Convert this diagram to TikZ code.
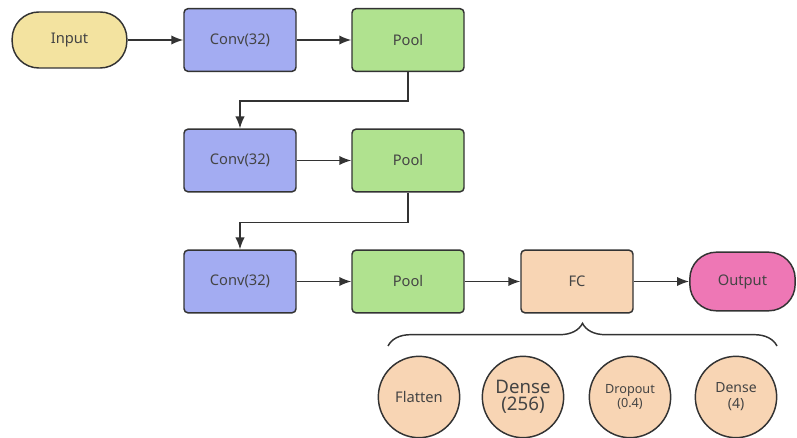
\documentclass[tikz,border=0pt]{standalone}
\usepackage{fontspec}
\setmainfont{Noto Sans}
\usetikzlibrary{decorations.pathreplacing,arrows.meta}
\definecolor{lineC}{HTML}{333333}
\definecolor{textC}{HTML}{444444}
\definecolor{inC}{HTML}{F3E3A0}
\definecolor{convC}{HTML}{A3ACF2}
\definecolor{poolC}{HTML}{B0E28F}
\definecolor{fcC}{HTML}{F8D5B4}
\definecolor{outC}{HTML}{EE77B5}
\begin{document}
\begin{tikzpicture}[x=0.75pt, y=-0.75pt,
	every node/.style={text=textC, font=\fontsize{11}{13}\selectfont},
	box/.style={draw=lineC, line width=1.1pt, rounded corners=3pt, minimum width=84pt, minimum height=47pt, inner sep=0pt},
	pill/.style={draw=lineC, line width=1.1pt, rounded corners=20pt, inner sep=0pt},
	layer/.style={draw=lineC, line width=1.1pt, circle, fill=fcC, minimum size=61pt, inner sep=0pt, align=center},
	arr/.style={draw=lineC, line width=1.1pt, -{Latex[length=9pt,width=7pt]}}]
	\useasboundingbox (0,0) rectangle (797,438);
	% first row
	\node[pill, fill=inC, minimum width=86pt, minimum height=42pt] (input) at (69.5,40) {Input};
	\node[box, fill=convC] (conv1) at (240,40) {Conv(32)};
	\node[box, fill=poolC] (pool1) at (408,40) {Pool};
	% second row
	\node[box, fill=convC] (conv2) at (240,160.5) {Conv(32)};
	\node[box, fill=poolC] (pool2) at (408,160.5) {Pool};
	% third row
	\node[box, fill=convC] (conv3) at (240,281.5) {Conv(32)};
	\node[box, fill=poolC] (pool3) at (408,281.5) {Pool};
	\node[box, fill=fcC] (fc) at (577,281.5) {FC};
	\node[pill, fill=outC, minimum width=79pt, minimum height=44pt] (output) at (742.5,281.5) {Output};
	% layers of FC
	\node[layer] (flatten) at (419,397) {Flatten};
	\node[layer, font=\fontsize{14}{15}\selectfont] (dense1) at (523,397) {Dense\\[-2pt](256)};
	\node[layer, font=\fontsize{9.5}{11}\selectfont] (dropout) at (630,397) {Dropout\\(0.4)};
	\node[layer, font=\fontsize{10.5}{12}\selectfont] (dense2) at (736,397) {Dense\\(4)};
	\coordinate (braceL) at (388,346);
	\coordinate (braceR) at (777,346);
	% connectors
	\draw[arr] (input) -- (conv1);
	\draw[arr] (conv1) -- (pool1);
	\draw[arr] (pool1.south) -- ++(0,29) -| (conv2.north);
	\draw[arr] (conv2) -- (pool2);
	\draw[arr] (pool2.south) -- ++(0,30) -| (conv3.north);
	\draw[arr] (conv3) -- (pool3);
	\draw[arr] (pool3) -- (fc);
	\draw[arr] (fc) -- (output);
	\draw[draw=lineC, line width=1.1pt, decorate, decoration={brace, amplitude=17pt}] (braceL) -- (braceR);
\end{tikzpicture}
\end{document}
